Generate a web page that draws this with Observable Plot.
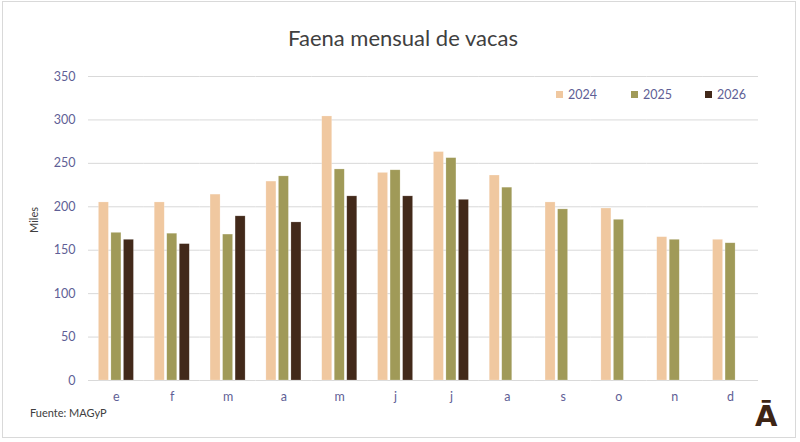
<!DOCTYPE html>
<html>
<head>
<meta charset="utf-8">
<script src="https://cdn.jsdelivr.net/npm/d3@7"></script>
<script src="https://cdn.jsdelivr.net/npm/@observablehq/plot@0.6"></script>
<style>
  html, body { margin: 0; padding: 0; background: #fff; }
  #wrap { position: relative; width: 800px; height: 442px; font-family: Lato, "Open Sans", sans-serif; overflow: hidden; }
  #frame { position: absolute; left: 2px; top: 1px; width: 794px; height: 437px; border: 1px solid #d9d9d9; box-sizing: border-box; pointer-events: none; }
  #title { position: absolute; left: 0; width: 806px; top: 24px; text-align: center; font-size: 22px; color: #404040; }
  .leg { position: absolute; top: 87px; font-size: 12.5px; color: #5f5f96; display: flex; align-items: center; }
  .leg span.sw { display: inline-block; width: 7px; height: 7px; margin-right: 5px; }
  #miles { position: absolute; left: 33px; top: 220px; transform: translate(-50%, -50%) rotate(-90deg); font-size: 11px; color: #404040; }
  #fuente { position: absolute; left: 30px; top: 406px; font-size: 11px; color: #404040; }
  #logo { position: absolute; left: 755px; top: 399px; font-size: 29px; font-weight: 700; color: #3d2414; font-family: "DejaVu Sans", sans-serif; }
  #chart { position: absolute; left: 0; top: 0; }
</style>
</head>
<body>
<div id="wrap">
  <div id="chart"></div>
  <div id="frame"></div>
  <div id="title">Faena mensual de vacas</div>
  <div id="legend"></div>
  <div id="miles">Miles</div>
  <div id="fuente">Fuente: MAGyP</div>
  <div id="logo">Ā</div>
</div>
<script>
const months = ["e","f","m","a","m","j","j","a","s","o","n","d"];
const years = ["2024","2025","2026"];
const v2024 = [205,205,214,229,304,239,263,236,205,198,165,162];
const v2025 = [170,169,168,235,243,242,256,222,197,185,162,158];
const v2026 = [162,157,189,182,212,212,208];
const colors = ["#f0c8a0","#a09a58","#42291a"];
const yTicks = [0,50,100,150,200,250,300,350];

const series = [v2024, v2025, v2026];
const data = [];
series.forEach((vals, si) => {
  vals.forEach((v, i) => data.push({month: i, year: years[si], value: v}));
});

const chart = Plot.plot({
  width: 800,
  height: 442,
  marginLeft: 88,
  marginRight: 42,
  marginTop: 76,
  marginBottom: 62,
  style: { fontFamily: "Lato, 'Open Sans', sans-serif", background: "transparent" },
  fx: { domain: d3.range(12), padding: 0, round: false, label: null },
  x: { domain: years, paddingInner: 0.2, paddingOuter: 0.83, round: false, axis: null },
  y: { domain: [0, 350], ticks: yTicks, label: null },
  color: { domain: years, range: colors },
  marks: [
    Plot.gridY(yTicks, { stroke: "#d9d9d9", strokeOpacity: 1, strokeWidth: 1 }),
    Plot.barY(data, { fx: "month", x: "year", y: "value", fill: "year", stroke: "#ffffff", strokeOpacity: 0.35, strokeWidth: 0.6 }),
    Plot.axisY(yTicks, { tickSize: 0, tickPadding: 13, fontSize: 12.5, fill: "#5f5f96", label: null }),
    Plot.axisFx({ tickSize: 0, tickPadding: 12, fontSize: 12.5, fill: "#5f5f96", label: null, anchor: "bottom", tickFormat: i => months[i] })
  ]
});
document.getElementById("chart").appendChild(chart);

const legX = [556, 631, 705];
const legend = document.getElementById("legend");
years.forEach((y, i) => {
  const d = document.createElement("div");
  d.className = "leg";
  d.style.left = legX[i] + "px";
  d.innerHTML = `<span class="sw" style="background:${colors[i]}"></span>${y}`;
  legend.appendChild(d);
});
</script>
</body>
</html>
